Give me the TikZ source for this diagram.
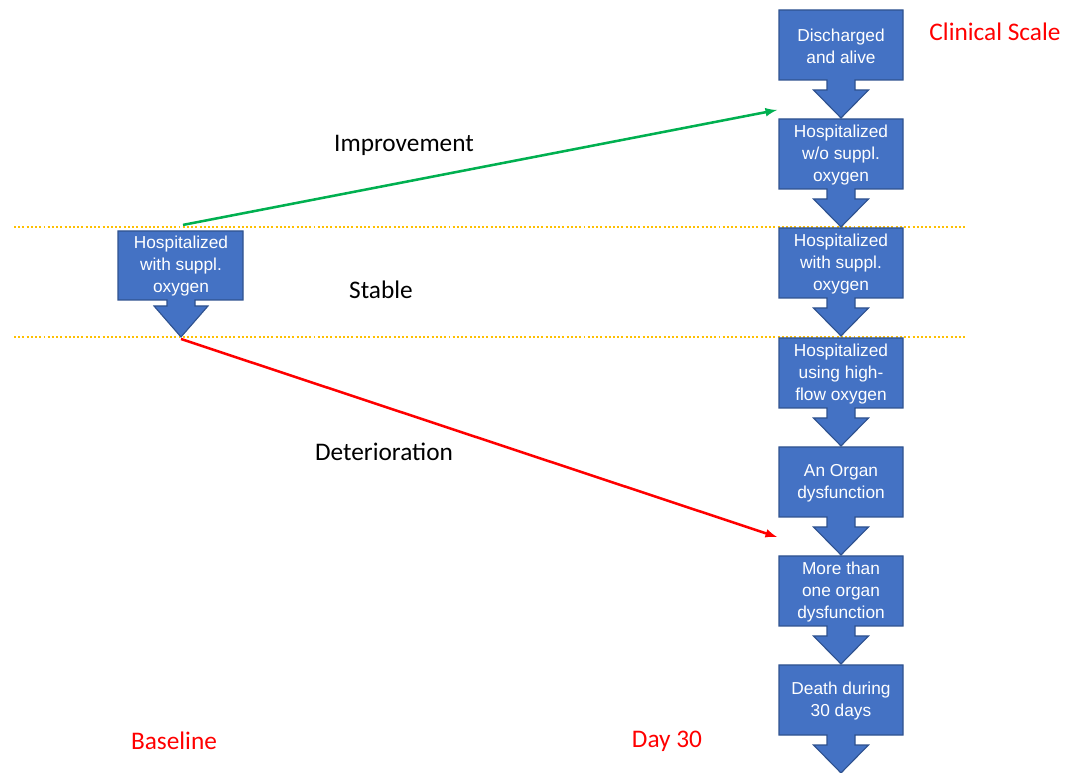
\documentclass[tikz,border=0pt]{standalone}
\usepackage{fontspec}
\usepackage{tikz}
\usetikzlibrary{calc}
\newfontfamily\boxfont{Liberation Sans}
\newfontfamily\labelfont{Carlito}
\definecolor{boxblue}{HTML}{4472C4}
\definecolor{boxedge}{HTML}{2F528F}
\definecolor{improvegreen}{HTML}{00B050}
\definecolor{rulegold}{HTML}{FFC000}
\tikzset{
  calloutshape/.style={fill=boxblue, draw=boxedge, line width=0.8pt, line join=miter},
  stepbox/.style={text=white, font=\boxfont\fontsize{12.3}{15.6}\selectfont, align=center, inner sep=0pt,
                  minimum width=88pt, minimum height=49.5pt},
  phase/.style={font=\labelfont\fontsize{18}{22}\selectfont, inner sep=0pt},
  timelabel/.style={phase, text=red},
  levelrule/.style={rulegold, line width=1.4pt, dash pattern=on 1.4pt off 1.6pt}
}

\begin{document}
\begin{tikzpicture}[x=0.025cm, y=-0.025cm]
         \useasboundingbox (0,0) rectangle (1074,773);
         \draw[levelrule] (14,227) -- (965,227);
         \draw[levelrule] (14,337) -- (965,337);
         \foreach \name/\top/\txt in {discharged/10/{Discharged\\and alive},
                                      nosuppl/119/{Hospitalized\\w/o suppl.\\oxygen},
                                      suppl/228/{Hospitalized\\with suppl.\\oxygen},
                                      highflow/338/{Hospitalized\\using high-\\flow oxygen},
                                      organ/447/{An Organ\\dysfunction},
                                      multiorgan/556/{More than\\one organ\\dysfunction},
                                      death/665/{Death during\\30 days}} {
            \filldraw[calloutshape] (779,\top) -- (903,\top) -- (903,\top+70) -- (855,\top+70) -- (855,\top+80)
                 -- (868.5,\top+80) -- (841,\top+108) -- (813.5,\top+80) -- (827,\top+80) -- (827,\top+70)
                 -- (779,\top+70) -- cycle;
            \node[stepbox] (\name) at (841,\top+36) {\txt};
         }
          \filldraw[calloutshape] (118,231) -- (243,231) -- (243,300) -- (195,300) -- (195,306)
               -- (208,306) -- (181,337) -- (154,306) -- (167,306) -- (167,300) -- (118,300) -- cycle;
          \node[stepbox] (base) at (181,266) {Hospitalized\\with suppl.\\oxygen};
          \coordinate (basetip) at (181,339);
          \coordinate (impr) at (777,110);
          \coordinate (deter) at (777,537);
          \draw[-latex, line width=1.8pt, improvegreen] ($(base.north)+(2,-6)$) -- (impr);
          \draw[-latex, line width=1.8pt, red] (basetip) -- (deter);
          \node[phase] (improvement) at (404,145) {Improvement};
          \node[phase] (stable) at (381,290) {Stable};
          \node[phase] (deterioration) at (384,452) {Deterioration};
          \node[timelabel] (scale) at (995,32) {Clinical Scale};
          \node[timelabel] (baseline) at (174,741) {Baseline};
          \node[timelabel] (day30) at (667,741) {Day 30};
      \end{tikzpicture}
\end{document}
